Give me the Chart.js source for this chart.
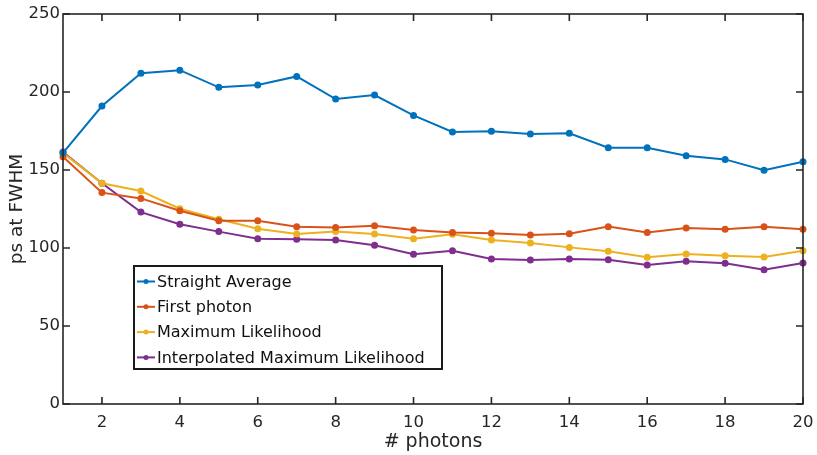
<!DOCTYPE html>
<html>
<head>
<meta charset="utf-8">
<script src="https://cdn.jsdelivr.net/npm/chart.js@4/dist/chart.umd.min.js"></script>
<style>
  html, body { margin: 0; padding: 0; background: #fff; }
  #wrap { width: 817px; height: 455px; }
</style>
</head>
<body>
<div id="wrap"><canvas id="fwhm"></canvas></div>
<script>
const photons = [1, 2, 3, 4, 5, 6, 7, 8, 9, 10, 11, 12, 13, 14, 15, 16, 17, 18, 19, 20];

const straightAverage = [161, 191, 212, 214, 203, 204.5, 210, 195.5, 198, 185, 174.4, 174.8, 173, 173.5, 164.3, 164.3, 159.2, 156.8, 149.8, 155.3];
const firstPhoton = [158.5, 135.5, 131.8, 123.9, 117.5, 117.5, 113.7, 113.2, 114.3, 111.5, 110, 109.4, 108.3, 109.2, 113.7, 110, 112.8, 112, 113.7, 112];
const maxLikelihood = [161, 141.5, 136.5, 125.2, 118.4, 112.4, 109, 110.5, 109, 106, 108.8, 105.1, 103.2, 100.4, 97.9, 94, 96.2, 95.1, 94.2, 98.3];
const interpMaxLikelihood = [161.5, 141.5, 123, 115.2, 110.5, 106, 105.6, 105.1, 101.7, 96, 98.3, 92.9, 92.3, 92.9, 92.5, 89.1, 91.5, 90.2, 86.1, 90.4];

const seriesNames = ['Straight Average', 'First photon', 'Maximum Likelihood', 'Interpolated Maximum Likelihood'];
const xTicks = [2, 4, 6, 8, 10, 12, 14, 16, 18, 20];
const yTicks = [0, 50, 100, 150, 200, 250];

const colors = ['#0072BD', '#D95319', '#EDB120', '#7E2F8E'];
const axisColor = '#262626';
const fontFamily = '"DejaVu Sans", Verdana, sans-serif';

Chart.defaults.font.family = fontFamily;
Chart.defaults.color = axisColor;

function makeSet(label, values, color) {
  return {
    label: label,
    data: values.map((v, i) => ({ x: photons[i], y: v })),
    borderColor: color,
    backgroundColor: color,
    borderWidth: 2,
    pointRadius: 2.5,
    pointHoverRadius: 2.5,
    tension: 0,
    clip: false,
  };
}

// box around the axes, with ticks pointing inward on all four sides
const frame = {
  id: 'frame',
  afterDatasetsDraw(chart) {
    const { ctx, chartArea: a, scales } = chart;
    const len = 7;
    ctx.save();
    ctx.strokeStyle = axisColor;
    ctx.lineWidth = 1.6;
    ctx.strokeRect(a.left, a.top, a.right - a.left, a.bottom - a.top);
    ctx.beginPath();
    xTicks.forEach(t => {
      const px = scales.x.getPixelForValue(t);
      ctx.moveTo(px, a.bottom); ctx.lineTo(px, a.bottom - len);
      ctx.moveTo(px, a.top); ctx.lineTo(px, a.top + len);
    });
    yTicks.forEach(t => {
      const py = scales.y.getPixelForValue(t);
      ctx.moveTo(a.left, py); ctx.lineTo(a.left + len, py);
      ctx.moveTo(a.right, py); ctx.lineTo(a.right - len, py);
    });
    ctx.stroke();
    ctx.restore();
  }
};

// boxed legend sitting inside the plot, lower left
const boxLegend = {
  id: 'boxLegend',
  afterDraw(chart) {
    const { ctx, chartArea: a } = chart;
    const x0 = a.left + 71, y0 = a.top + 252, w = 308, h = 103;
    ctx.save();
    ctx.fillStyle = '#fff';
    ctx.fillRect(x0, y0, w, h);
    ctx.strokeStyle = '#1a1a1a';
    ctx.lineWidth = 2;
    ctx.strokeRect(x0, y0, w, h);
    ctx.font = '16px ' + fontFamily;
    ctx.textBaseline = 'middle';
    chart.data.datasets.forEach((ds, i) => {
      const cy = y0 + 15.5 + i * 25.3;
      ctx.strokeStyle = ds.borderColor;
      ctx.lineWidth = 2;
      ctx.beginPath();
      ctx.moveTo(x0 + 3, cy); ctx.lineTo(x0 + 21, cy);
      ctx.stroke();
      ctx.fillStyle = ds.borderColor;
      ctx.beginPath();
      ctx.arc(x0 + 12, cy, 2.5, 0, Math.PI * 2);
      ctx.fill();
      ctx.fillStyle = '#111';
      ctx.fillText(ds.label, x0 + 23, cy + 1);
    });
    ctx.restore();
  }
};

new Chart('fwhm', {
  type: 'line',
  data: {
    datasets: [
      makeSet(seriesNames[0], straightAverage, colors[0]),
      makeSet(seriesNames[1], firstPhoton, colors[1]),
      makeSet(seriesNames[2], maxLikelihood, colors[2]),
      makeSet(seriesNames[3], interpMaxLikelihood, colors[3]),
    ],
  },
  options: {
    responsive: true,
    maintainAspectRatio: false,
    animation: false,
    events: [],
    layout: { padding: { top: 14, right: 14, left: 0, bottom: 0 } },
    plugins: {
      legend: { display: false },
      tooltip: { enabled: false },
    },
    scales: {
      x: {
        type: 'linear',
        min: 1,
        max: 20,
        afterBuildTicks: axis => { axis.ticks = xTicks.map(v => ({ value: v })); },
        afterFit: axis => { axis.height = 51; axis.paddingLeft = 0; axis.paddingRight = 0; },
        grid: { display: false, drawTicks: false },
        border: { display: false },
        ticks: { padding: 9, font: { size: 16.5 }, color: axisColor, maxRotation: 0 },
        title: { display: true, text: '# photons', font: { size: 19 }, color: axisColor, padding: { top: 0, bottom: 2 } },
      },
      y: {
        min: 0,
        max: 250,
        afterBuildTicks: axis => { axis.ticks = yTicks.map(v => ({ value: v })); },
        afterFit: axis => { axis.width = 63; axis.paddingTop = 0; axis.paddingBottom = 0; },
        grid: { display: false, drawTicks: false },
        border: { display: false },
        ticks: { padding: 3, font: { size: 16.5 }, color: axisColor },
        title: { display: true, text: 'ps at FWHM', font: { size: 18.5 }, color: axisColor, padding: { top: 6, bottom: 0 } },
      },
    },
  },
  plugins: [frame, boxLegend],
});
</script>
</body>
</html>
